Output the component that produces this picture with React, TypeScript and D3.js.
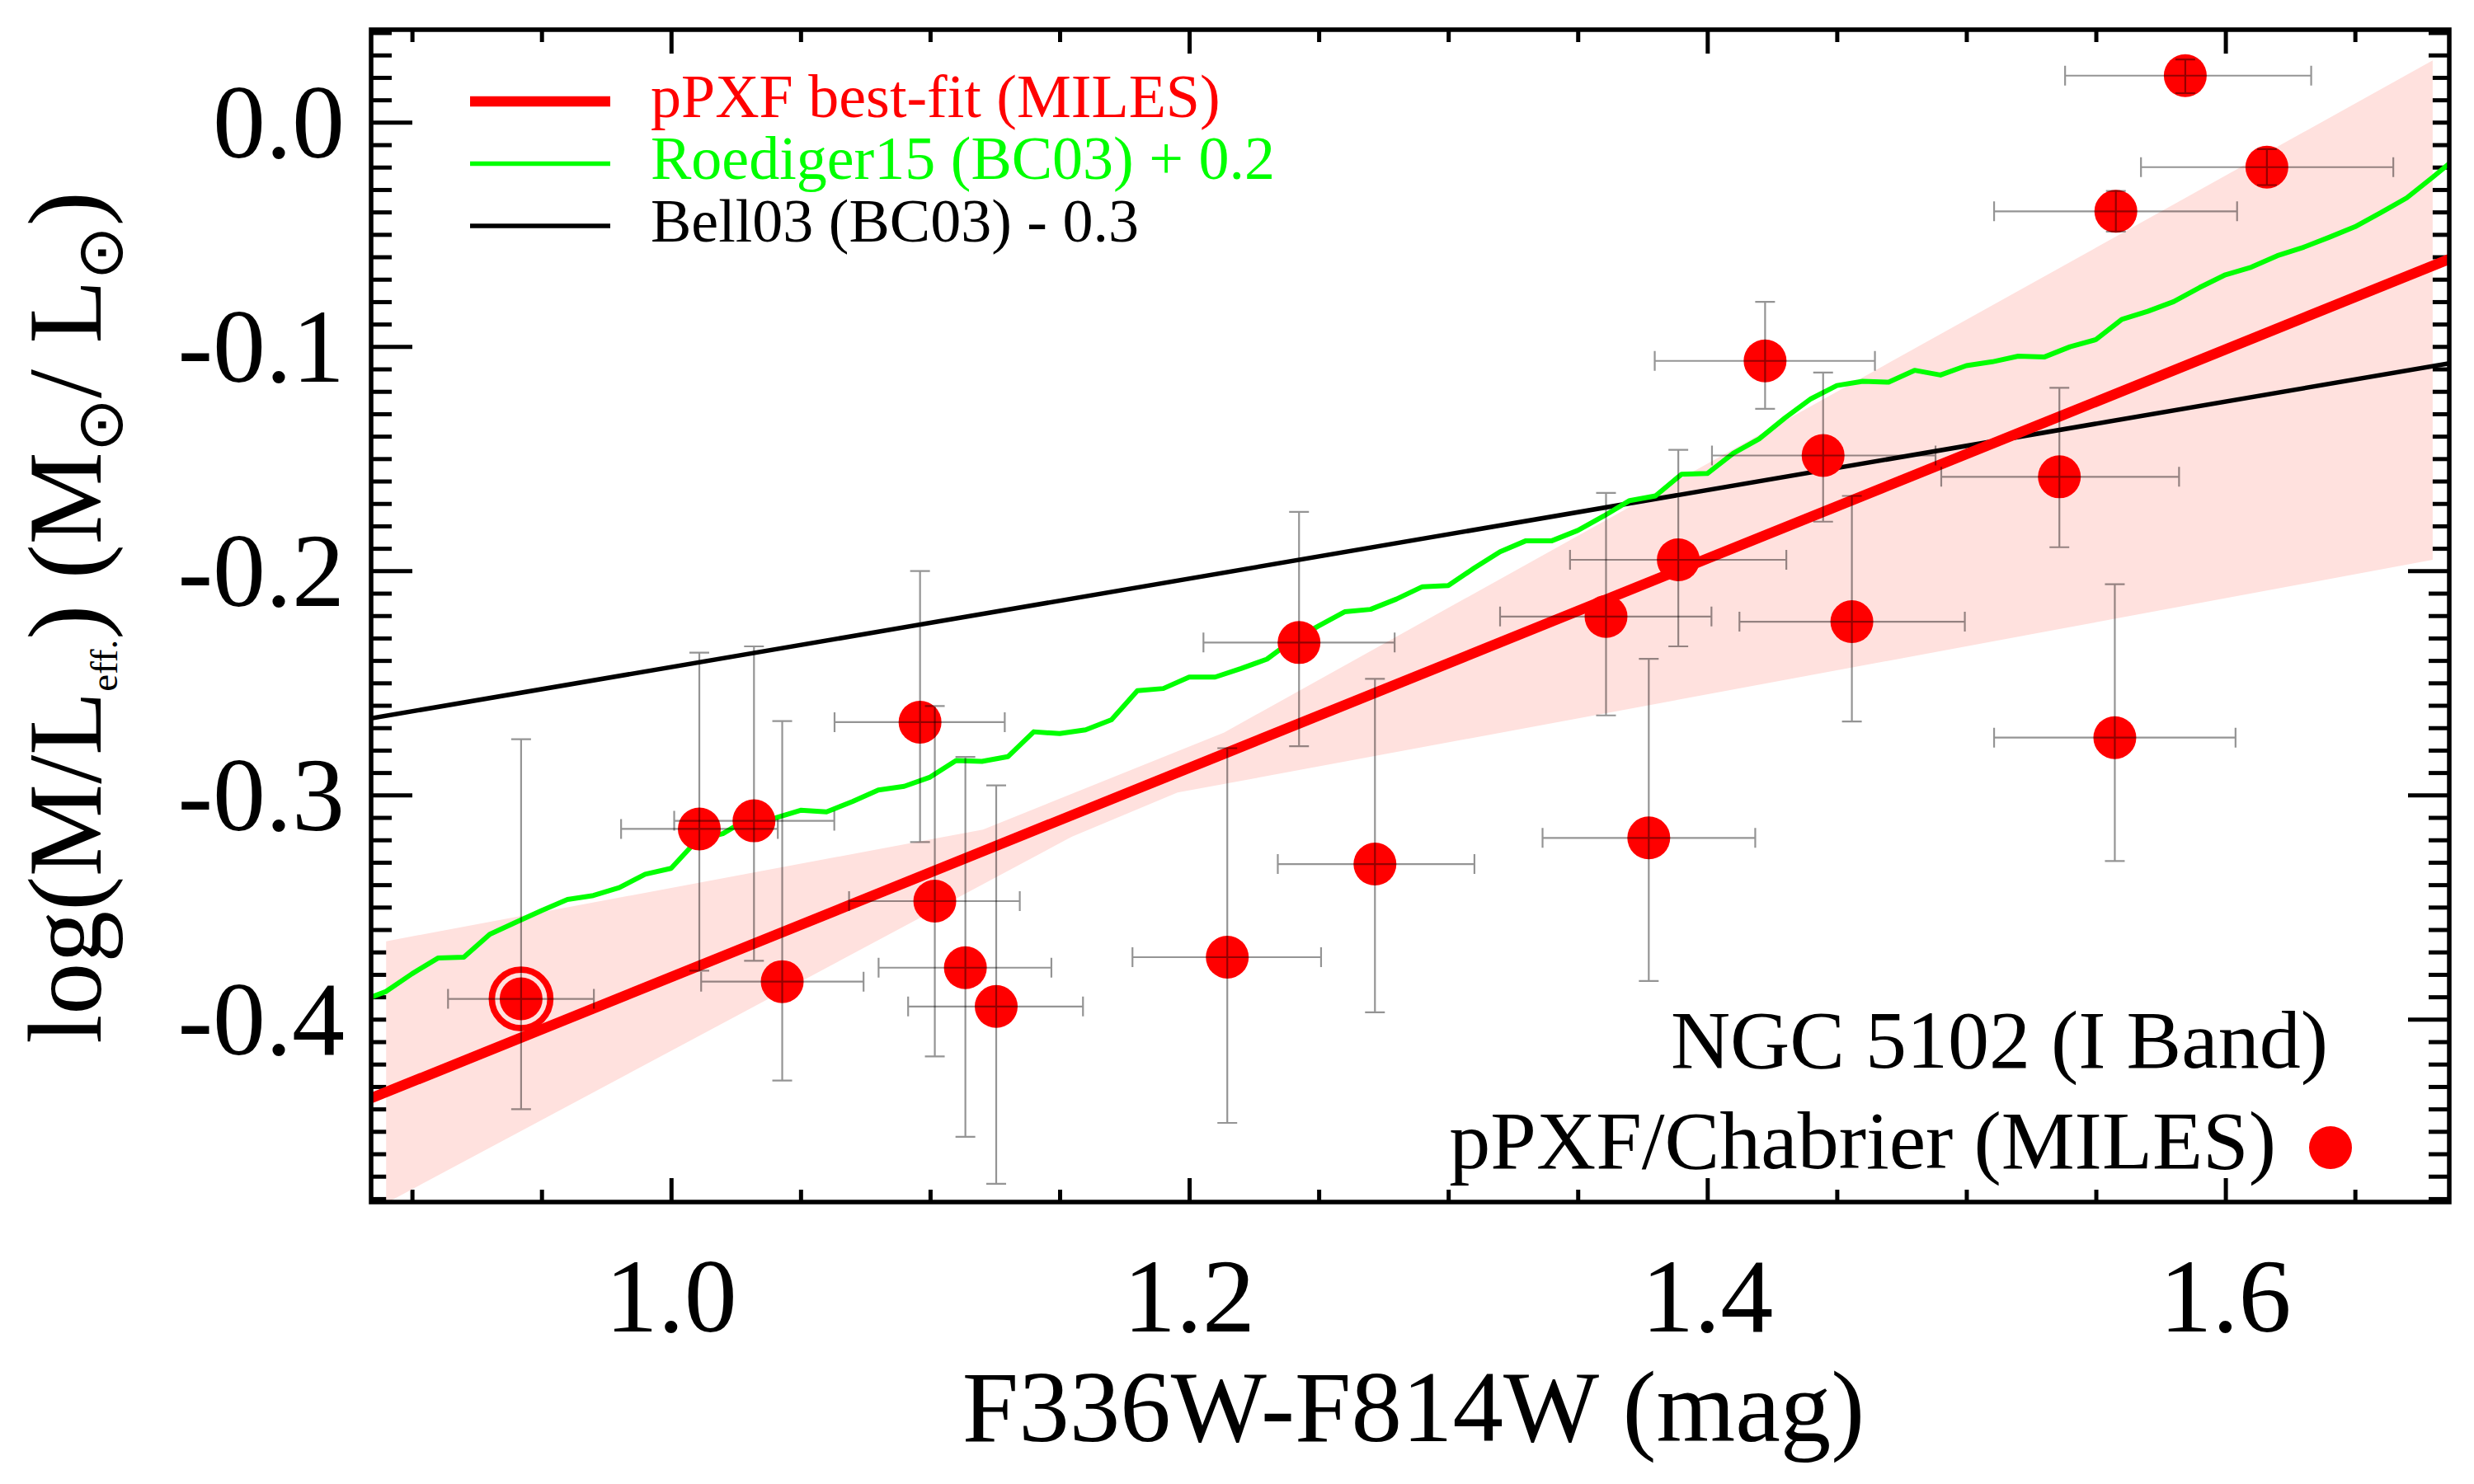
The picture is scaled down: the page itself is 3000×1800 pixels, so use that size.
import React, { useRef, useEffect } from 'react';
import * as d3 from 'd3';

// Plot frame (pixels)
const PLOT = { left: 450, right: 2970, top: 36, bottom: 1458 };

const X_DOMAIN: [number, number] = [0.8842, 1.6864];
const Y_DOMAIN: [number, number] = [-0.4815, 0.0413];

// Tick labels
const X_MAJOR = [1.0, 1.2, 1.4, 1.6];
const X_LABELS = ['1.0', '1.2', '1.4', '1.6'];
const Y_MAJOR = [0.0, -0.1, -0.2, -0.3, -0.4];
const Y_LABELS = ['0.0', '-0.1', '-0.2', '-0.3', '-0.4'];

// pPXF/Chabrier (MILES) measurements: colour, log(M/L) and error ranges
const pointX = [0.9421, 1.0109, 1.032, 1.0429, 1.0961, 1.1018, 1.1136, 1.1255, 1.2147, 1.2424, 1.2717,
  1.3609, 1.3774, 1.3888, 1.4223, 1.4447, 1.4558, 1.5359, 1.5573, 1.5577, 1.5845, 1.616];
const pointXLo = [0.9139, 0.9807, 1.0012, 1.0116, 1.0631, 1.0687, 1.0801, 1.0915, 1.1781, 1.2055, 1.2342,
  1.32, 1.3364, 1.347, 1.3797, 1.4018, 1.4124, 1.4903, 1.5107, 1.5107, 1.5381, 1.5674];
const pointXHi = [0.9702, 1.0412, 1.063, 1.0743, 1.1288, 1.1346, 1.1468, 1.159, 1.2509, 1.2793, 1.3101,
  1.4016, 1.4185, 1.4305, 1.4647, 1.4881, 1.4994, 1.5821, 1.6039, 1.6045, 1.6331, 1.6648];
const pointY = [-0.3909, -0.3151, -0.3115, -0.3832, -0.2675, -0.3473, -0.377, -0.3943, -0.3723, -0.232, -0.3308,
  -0.2204, -0.3191, -0.1951, -0.1064, -0.1486, -0.2227, -0.1581, -0.2744, -0.0397, 0.0208, -0.02];
const pointYLo = [-0.4401, -0.3783, -0.3739, -0.4273, -0.321, -0.4166, -0.4524, -0.4734, -0.4462, -0.2782, -0.3969,
  -0.2645, -0.3829, -0.2337, -0.1278, -0.1781, -0.2672, -0.1895, -0.3294, -0.0487, 0.013, -0.028];
const pointYHi = [-0.2751, -0.2365, -0.2337, -0.267, -0.2001, -0.2603, -0.283, -0.2957, -0.2791, -0.1737, -0.2482,
  -0.1653, -0.2393, -0.1461, -0.0801, -0.1116, -0.1666, -0.1184, -0.206, -0.0306, 0.028, -0.012];
const HIGHLIGHT = 0;

// pPXF best-fit (MILES)
const fitX = [0.8842, 1.6864];
const fitY = [-0.4352, -0.061];

// confidence band of the fit
const bandUpX = [0.89, 1.1204, 1.2135, 1.68];
const bandUpY = [-0.3652, -0.3154, -0.2721, 0.0276];
const bandLoX = [0.89, 1.1548, 1.1955, 1.68];
const bandLoY = [-0.482, -0.3185, -0.2989, -0.1951];

// Bell03 (BC03) - 0.3
const bellX = [0.8842, 1.6864];
const bellY = [-0.2658, -0.1075];

// Roediger15 (BC03) + 0.2
const roedX = [0.88, 0.89, 0.90, 0.91, 0.92, 0.93, 0.94, 0.95, 0.96, 0.97, 0.98, 0.99,
  1.00, 1.01, 1.02, 1.03, 1.04, 1.05, 1.06, 1.07, 1.08, 1.09, 1.10, 1.11, 1.12, 1.13, 1.14, 1.15,
  1.16, 1.17, 1.18, 1.19, 1.20, 1.21, 1.22, 1.23, 1.24, 1.25, 1.26, 1.27, 1.28, 1.29, 1.30, 1.31,
  1.32, 1.33, 1.34, 1.35, 1.36, 1.37, 1.38, 1.39, 1.40, 1.41, 1.42, 1.43, 1.44, 1.45, 1.46, 1.47,
  1.48, 1.49, 1.50, 1.51, 1.52, 1.53, 1.54, 1.55, 1.56, 1.57, 1.58, 1.59, 1.60, 1.61, 1.62, 1.63,
  1.64, 1.65, 1.66, 1.67, 1.68, 1.69];
const roedY = [-0.392, -0.3876, -0.3797, -0.3727, -0.3723, -0.3621, -0.3568, -0.3515, -0.3466, -0.3448, -0.3413, -0.3353,
  -0.3327, -0.3202, -0.3172, -0.3103, -0.3103, -0.3068, -0.3075, -0.3029, -0.2978, -0.2961, -0.292, -0.2846, -0.285, -0.2829, -0.2718, -0.2726,
  -0.2709, -0.2664, -0.2535, -0.2525, -0.2474, -0.2474, -0.2436, -0.2394, -0.2309, -0.2246, -0.2183, -0.2172, -0.2126, -0.2071, -0.2066, -0.1988,
  -0.1915, -0.1866, -0.1866, -0.182, -0.1756, -0.1687, -0.1666, -0.157, -0.1566, -0.1476, -0.1412, -0.1318, -0.1233, -0.1174, -0.1155, -0.1159,
  -0.1106, -0.1127, -0.1085, -0.1068, -0.1043, -0.1047, -0.1001, -0.0969, -0.0879, -0.0843, -0.08, -0.0737, -0.068, -0.0646, -0.0595, -0.0558,
  -0.0513, -0.0466, -0.0403, -0.0337, -0.0245, -0.015];

const LEGEND = [
  { label: 'pPXF best-fit (MILES)', color: '#ff0000', width: 12.5 },
  { label: 'Roediger15 (BC03) + 0.2', color: '#00ff00', width: 5.5 },
  { label: 'Bell03 (BC03) - 0.3', color: '#000000', width: 5.5 },
];

const SERIF = "'Liberation Serif', 'Times New Roman', Times, serif";
const RED = '#ff0000';
const GREEN = '#00ff00';
const PINK = '#ffe1de';

const App: React.FC = () => {
  const svgRef = useRef<SVGSVGElement>(null);

  useEffect(() => {
    if (!svgRef.current) return;
    const svg = d3.select(svgRef.current);
    svg.selectAll('*').remove();

    const x = d3.scaleLinear().domain(X_DOMAIN).range([PLOT.left, PLOT.right]);
    const y = d3.scaleLinear().domain(Y_DOMAIN).range([PLOT.bottom, PLOT.top]);

    svg.append('rect').attr('width', 3000).attr('height', 1800).attr('fill', '#fff');

    svg.append('defs').append('clipPath').attr('id', 'plot-clip')
      .append('rect')
      .attr('x', PLOT.left).attr('y', PLOT.top)
      .attr('width', PLOT.right - PLOT.left).attr('height', PLOT.bottom - PLOT.top);

    // ticks on all four sides
    const xMinor = d3.range(0.9, 1.68, 0.05).filter(v => !X_MAJOR.some(m => Math.abs(m - v) < 1e-6));
    const yMinor = d3.range(-0.48, 0.041, 0.01).filter(v => !Y_MAJOR.some(m => Math.abs(m - v) < 1e-6));

    const clean = (g: d3.Selection<SVGGElement, unknown, null, undefined>) => {
      g.select('.domain').remove();
      g.selectAll('.tick text').remove();
      g.selectAll('.tick line').attr('stroke', '#000').attr('stroke-width', 5);
    };
    const noLabel = () => '';

    const axes = svg.append('g');
    axes.append('g').attr('transform', `translate(0,${PLOT.bottom})`)
      .call(d3.axisBottom(x).tickValues(X_MAJOR).tickSize(-29).tickFormat(noLabel)).call(clean);
    axes.append('g').attr('transform', `translate(0,${PLOT.bottom})`)
      .call(d3.axisBottom(x).tickValues(xMinor).tickSize(-15).tickFormat(noLabel)).call(clean);
    axes.append('g').attr('transform', `translate(0,${PLOT.top})`)
      .call(d3.axisTop(x).tickValues(X_MAJOR).tickSize(-29).tickFormat(noLabel)).call(clean);
    axes.append('g').attr('transform', `translate(0,${PLOT.top})`)
      .call(d3.axisTop(x).tickValues(xMinor).tickSize(-15).tickFormat(noLabel)).call(clean);
    axes.append('g').attr('transform', `translate(${PLOT.left},0)`)
      .call(d3.axisLeft(y).tickValues(Y_MAJOR).tickSize(-50).tickFormat(noLabel)).call(clean);
    axes.append('g').attr('transform', `translate(${PLOT.left},0)`)
      .call(d3.axisLeft(y).tickValues(yMinor).tickSize(-25).tickFormat(noLabel)).call(clean);
    axes.append('g').attr('transform', `translate(${PLOT.right},0)`)
      .call(d3.axisRight(y).tickValues(Y_MAJOR).tickSize(-50).tickFormat(noLabel)).call(clean);
    axes.append('g').attr('transform', `translate(${PLOT.right},0)`)
      .call(d3.axisRight(y).tickValues(yMinor).tickSize(-25).tickFormat(noLabel)).call(clean);

    const plot = svg.append('g').attr('clip-path', 'url(#plot-clip)');

    // confidence band
    const bandPts: [number, number][] = [
      ...bandUpX.map((v, i) => [x(v), y(bandUpY[i])] as [number, number]),
      ...bandLoX.map((v, i) => [x(v), y(bandLoY[i])] as [number, number]).reverse(),
    ];
    plot.append('path')
      .attr('d', d3.line().curve(d3.curveLinearClosed)(bandPts))
      .attr('fill', PINK);

    // frame
    svg.append('rect')
      .attr('x', PLOT.left).attr('y', PLOT.top)
      .attr('width', PLOT.right - PLOT.left).attr('height', PLOT.bottom - PLOT.top)
      .attr('fill', 'none').attr('stroke', '#000').attr('stroke-width', 5.5);

    const line = d3.line<number>().x((d, i, arr) => 0).y(() => 0);
    const drawLine = (xs: number[], ys: number[], color: string, width: number) => {
      plot.append('path')
        .datum(xs.map((v, i) => [v, ys[i]] as [number, number]))
        .attr('d', d3.line<[number, number]>().x(d => x(d[0])).y(d => y(d[1])))
        .attr('fill', 'none')
        .attr('stroke', color)
        .attr('stroke-width', width)
        .attr('stroke-linejoin', 'round');
    };
    void line;
    drawLine(bellX, bellY, '#000', 5.5);
    drawLine(roedX, roedY, GREEN, 6);
    drawLine(fitX, fitY, RED, 12.5);

    // points
    const marks = svg.append('g');
    marks.selectAll('circle.pt').data(pointX).join('circle')
      .attr('class', 'pt')
      .attr('cx', d => x(d))
      .attr('cy', (d, i) => y(pointY[i]))
      .attr('r', 26)
      .attr('fill', RED);
    marks.append('circle')
      .attr('cx', x(pointX[HIGHLIGHT]))
      .attr('cy', y(pointY[HIGHLIGHT]))
      .attr('r', 35.5)
      .attr('fill', 'none')
      .attr('stroke', RED)
      .attr('stroke-width', 7.7);

    // error bars (drawn above the points)
    const cap = 12;
    const eb = svg.append('g')
      .attr('stroke', '#000').attr('stroke-opacity', 0.42).attr('stroke-width', 2.2).attr('fill', 'none');
    pointX.forEach((px, i) => {
      const cx = x(px), cy = y(pointY[i]);
      const x0 = x(pointXLo[i]), x1 = x(pointXHi[i]);
      const y0 = y(pointYLo[i]), y1 = y(pointYHi[i]);
      eb.append('path').attr('d',
        `M${x0},${cy}H${x1}M${x0},${cy - cap}V${cy + cap}M${x1},${cy - cap}V${cy + cap}` +
        `M${cx},${y0}V${y1}M${cx - cap},${y0}H${cx + cap}M${cx - cap},${y1}H${cx + cap}`);
    });

    // tick labels
    svg.append('g').selectAll('text').data(X_MAJOR).join('text')
      .attr('x', d => x(d)).attr('y', 1615)
      .attr('text-anchor', 'middle')
      .attr('font-family', SERIF).attr('font-size', 128)
      .text((d, i) => X_LABELS[i]);
    svg.append('g').selectAll('text').data(Y_MAJOR).join('text')
      .attr('x', 418).attr('y', d => y(d) + 43)
      .attr('text-anchor', 'end')
      .attr('font-family', SERIF).attr('font-size', 128)
      .text((d, i) => Y_LABELS[i]);

    // axis titles
    svg.append('text')
      .attr('x', 1714).attr('y', 1748)
      .attr('text-anchor', 'middle')
      .attr('font-family', SERIF).attr('font-size', 123)
      .text('F336W-F814W (mag)');

    const yt = svg.append('text')
      .attr('transform', 'translate(122,749) rotate(-90)')
      .attr('text-anchor', 'middle')
      .attr('font-family', SERIF).attr('font-size', 126);
    yt.append('tspan').text('log(M/L');
    yt.append('tspan').attr('font-size', 47).attr('dy', 20).text('eff.');
    yt.append('tspan').attr('dy', -20).text(') (M');
    yt.append('tspan').attr('font-family', "'DejaVu Sans', sans-serif").attr('font-size', 78).attr('dy', 26).text('\u2299');
    yt.append('tspan').attr('dy', -26).text('/ L');
    yt.append('tspan').attr('font-family', "'DejaVu Sans', sans-serif").attr('font-size', 78).attr('dy', 26).text('\u2299');
    yt.append('tspan').attr('dy', -26).text(')');

    // legend
    const lg = svg.append('g');
    LEGEND.forEach((item, i) => {
      const base = 141.5 + i * 75.5;
      lg.append('line')
        .attr('x1', 570).attr('x2', 740)
        .attr('y1', base - 18.5).attr('y2', base - 18.5)
        .attr('stroke', item.color).attr('stroke-width', item.width);
      lg.append('text')
        .attr('x', 789).attr('y', base)
        .attr('font-family', SERIF).attr('font-size', 74)
        .attr('fill', item.color)
        .text(item.label);
    });

    // annotation
    svg.append('text')
      .attr('x', 2823).attr('y', 1295)
      .attr('text-anchor', 'end')
      .attr('font-family', SERIF).attr('font-size', 100)
      .text('NGC 5102 (I Band)');
    svg.append('text')
      .attr('x', 2760).attr('y', 1417)
      .attr('text-anchor', 'end')
      .attr('font-family', SERIF).attr('font-size', 100)
      .text('pPXF/Chabrier (MILES)');
    svg.append('circle')
      .attr('cx', 2826).attr('cy', 1392).attr('r', 26)
      .attr('fill', RED);
  }, []);

  return (
    <div style={{ position: 'absolute', left: 0, top: 0 }}>
      <svg ref={svgRef} width={3000} height={1800} />
    </div>
  );
};

export default App;
